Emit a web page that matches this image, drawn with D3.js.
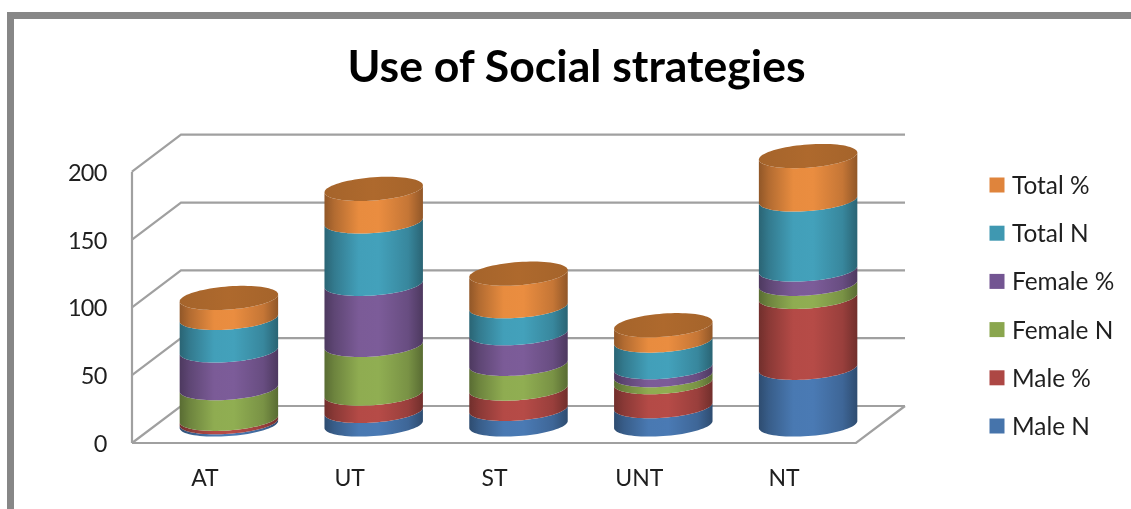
<!DOCTYPE html>
<html><head><meta charset="utf-8">
<script src="https://cdnjs.cloudflare.com/ajax/libs/d3/7.8.5/d3.min.js"></script>
<style>html,body{margin:0;padding:0;background:#fff}svg{display:block;filter:blur(0.45px)}text{font-family:Lato,"Open Sans",sans-serif;fill:#1f1f1f}</style>
</head><body><div id="chart"></div>
<script>
const categories = ["AT","UT","ST","UNT","NT"];
const seriesNames = ["Male N","Male %","Female N","Female %","Total N","Total %"];
const maleN    = [1.7, 10, 11.5, 13.5, 41.8];
const malePct  = [2.5, 12.8, 15, 17.7, 52.3];
const femaleN  = [22.6, 35.9, 18.2, 5.2, 9.6];
const femalePct= [27.8, 45, 22.6, 5.9, 10.6];
const totalN   = [24, 46, 19.9, 19.6, 51.6];
const totalPct = [14.7, 24, 24, 11.3, 32];
const seriesValues = [maleN, malePct, femaleN, femalePct, totalN, totalPct];
const seriesColors = ["#4a7ab4","#b64b47","#90ae52","#7c5c99","#43a1bb","#ea8d40"];
const legendColors = ["#4674ab","#ad4744","#8aa64e","#735592","#3f98b1","#df843c"];
const yTicks = [0,50,100,150,200];

const W=1131,H=509;
const svg=d3.select("#chart").append("svg").attr("width",W).attr("height",H);
const defs=svg.append("defs");
const x=d3.scaleBand().domain(categories).range([132,856]);
const y=d3.scaleLinear().domain([0,200]).range([443,171.7]);
const depthX=49, depthY=-37;
const gridColor="#a0a0a0";

// frame
svg.append("path").attr("d","M10.5,509V15.5H1131").attr("fill","none").attr("stroke","#878787").attr("stroke-width",7);

// title
svg.append("text").attr("x",576.5).attr("y",82).attr("text-anchor","middle")
  .style("font-size","44.6px").style("font-weight",700).style("fill","#000").text("Use of Social strategies");

// walls
const g=svg.append("g").attr("fill","none").attr("stroke",gridColor).attr("stroke-width",2.2);
const frontR=x.range()[1], frontL=x.range()[0];
yTicks.forEach(v=>{
  const py=y(v);
  g.append("polyline").attr("points",[[frontL,py],[frontL+depthX,py+depthY],[frontR+depthX,py+depthY]].join(" "));
});
g.append("line").attr("x1",frontL).attr("x2",frontL).attr("y1",y(200)).attr("y2",y(0));
g.append("polyline").attr("points",[[frontL,y(0)],[frontR,y(0)],[frontR+depthX,y(0)+depthY]].join(" "));

// axes
const axL=d3.axisLeft(y).tickValues(yTicks).tickSize(0).tickPadding(0);
const gy=svg.append("g").attr("transform","translate(106.5,1)").call(axL);
gy.select(".domain").remove();
gy.selectAll("text").style("font-size","23.5px").style("letter-spacing","-0.8px").style("font-family",null);
const axB=d3.axisBottom(x).tickSize(0).tickPadding(0);
const gx=svg.append("g").attr("transform","translate(0.5,470)").call(axB);
gx.select(".domain").remove();
gx.selectAll("text").style("font-size","23px").style("font-family",null);

// gradients
seriesColors.forEach((c,i)=>{
  const grad=defs.append("linearGradient").attr("id","grad"+i).attr("x1",0).attr("x2",1).attr("y1",0).attr("y2",0);
  const d=d3.color(c);
  [[0,.62],[.1,.76],[.35,.99],[.55,1],[.85,.84],[1,.62]].forEach(([o,k])=>{
    grad.append("stop").attr("offset",o).attr("stop-color",d3.rgb(d.r*k,d.g*k,d.b*k).formatHex());
  });
});
const topGrad=defs.append("linearGradient").attr("id","gradTop").attr("x1",0).attr("x2",1).attr("y1",0).attr("y2",0);
[[0,"#a5642b"],[.5,"#ae692d"],[1,"#a5642b"]].forEach(([o,c])=>topGrad.append("stop").attr("offset",o).attr("stop-color",c));

// cylinders
const barWidth=x.bandwidth()*0.68;
const a=barWidth/2, b=11.6, skew=3.5, samples=d3.range(0,41).map(i=>Math.PI-i*Math.PI/40);
const line=d3.line();
function arc(cx,cy){return samples.map(t=>[cx+a*Math.cos(t),cy+b*Math.sin(t)-skew*Math.cos(t)]);}
const midX=depthX/2, midY=depthY/2;
const bars=svg.append("g");
categories.forEach((cat,ci)=>{
  const cx=x(cat)+x.bandwidth()/2+midX;
  let cum=0;
  seriesValues.forEach((vals,si)=>{
    const y0=y(cum)+midY, y1=y(cum+vals[ci])+midY;
    cum+=vals[ci];
    const pts=arc(cx,y1).concat(arc(cx,y0).reverse());
    bars.append("path").attr("d",line(pts)+"Z").attr("fill","url(#grad"+si+")");
  });
  const ty=y(cum)+midY;
  const ring=arc(cx,ty).concat(samples.map(t=>[cx+a*Math.cos(t),ty-b*Math.sin(t)-skew*Math.cos(t)]).reverse());
  bars.append("path").attr("d",line(ring)+"Z").attr("fill","url(#gradTop)");
});

// legend
const legendY=d3.scaleLinear().domain([0,5]).range([426,185]);
const legend=svg.append("g");
seriesNames.forEach((n,i)=>{
  const ly=legendY(i);
  legend.append("rect").attr("x",989.5).attr("y",ly-7.5).attr("width",15).attr("height",15).attr("fill",legendColors[i]);
  legend.append("text").attr("x",1012).attr("y",ly+9).style("font-size","24.4px").text(n);
});
</script></body></html>
